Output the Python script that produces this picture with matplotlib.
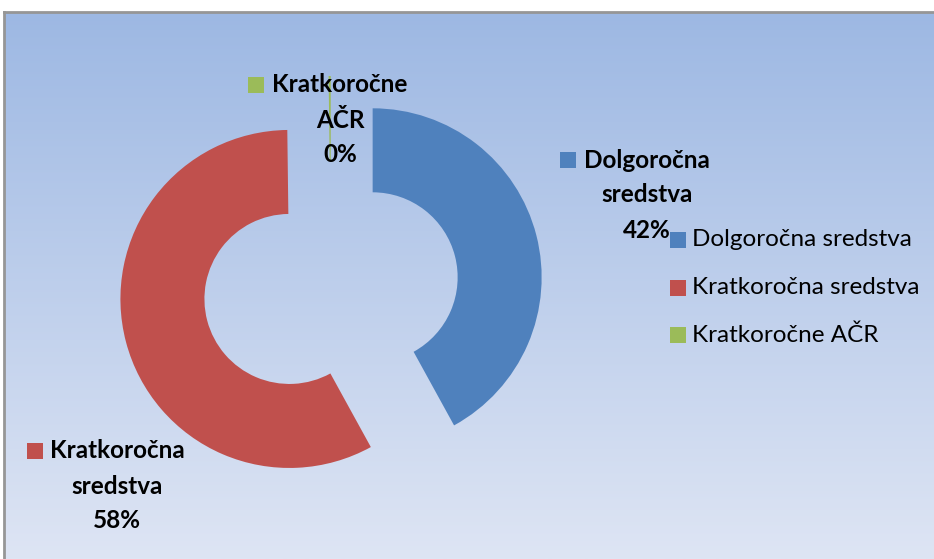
import numpy as np
import matplotlib
matplotlib.use("Agg")
import matplotlib.pyplot as plt
from matplotlib.patches import Rectangle
from matplotlib.colors import LinearSegmentedColormap

categories = ["Dolgoročna sredstva", "Kratkoročna sredstva", "Kratkoročne AČR"]
values = [42.0, 57.8, 0.2]
pct_labels = ["42%", "58%", "0%"]
label_lines = [["Dolgoročna", "sredstva"], ["Kratkoročna", "sredstva"], ["Kratkoročne", "AČR"]]
colors = ["#4F81BD", "#C0504D", "#9BBB59"]

W, H = 934, 559
fig = plt.figure(figsize=(W / 100, H / 100), dpi=100)
fig.patch.set_facecolor("white")

# background gradient panel
bg = fig.add_axes([4 / W, 0, (W - 4) / W, (H - 12) / H])
cmap = LinearSegmentedColormap.from_list("bg", ["#DEE5F4", "#9DB8E3"])
grad = np.linspace(0, 1, 256).reshape(-1, 1)
bg.imshow(grad, aspect="auto", cmap=cmap, origin="lower", extent=[0, 1, 0, 1])
bg.set_xticks([]); bg.set_yticks([])
for s in ["right", "bottom"]:
    bg.spines[s].set_visible(False)
for s in ["left", "top"]:
    bg.spines[s].set_color("#969696")
    bg.spines[s].set_linewidth(2)

# main axes in pixel coordinates (y measured from bottom)
ax = fig.add_axes([0, 0, 1, 1])
ax.patch.set_alpha(0)

cx, cy = 331, H - 288
R = 169
explode_px = 43
ax.pie(values, colors=colors, startangle=90, counterclock=False,
       center=(cx, cy), radius=R, explode=[explode_px] * len(values),
       wedgeprops=dict(width=R - 85, linewidth=0), frame=True)
ax.set_xlim(0, W)
ax.set_ylim(0, H)
ax.set_aspect("equal")
ax.axis("off")

font = "Lato"
fs = 17.5
# data labels: (center x of text, y of first line, square x)
label_pos = [(647, 160, 560), (117, 451, 27), (340, 85, 248)]
line_gap = 35
for i, (tx, ty, sx) in enumerate(label_pos):
    lines = label_lines[i] + [pct_labels[i]]
    for j, line in enumerate(lines):
        ax.text(tx, H - (ty + j * line_gap), line, ha="center", va="center",
                fontsize=fs, fontweight="bold", family=font, color="black")
    ax.add_patch(Rectangle((sx, H - ty - 8), 16, 16, color=colors[i], lw=0))

# legend
leg_y = [240, 288, 335]
for i, cat in enumerate(categories):
    ax.add_patch(Rectangle((670, H - leg_y[i] - 8), 16, 16, color=colors[i], lw=0))
    ax.text(692, H - leg_y[i], cat, ha="left", va="center", fontsize=fs,
            family=font, color="black")

fig.savefig("out.png", dpi=100, facecolor="white")
